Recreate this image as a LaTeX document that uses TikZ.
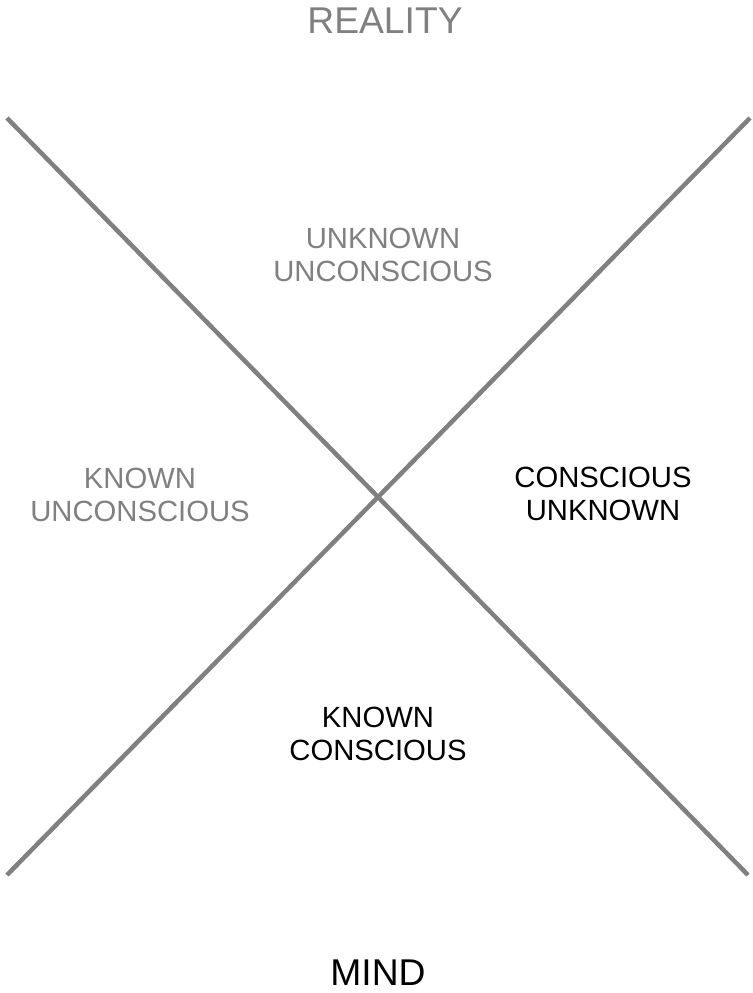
\documentclass[tikz,border=0pt]{standalone}
\usepackage{fontspec}
\setmainfont{Liberation Sans}
\usepackage{xcolor}
\usepackage{tikz}
\usetikzlibrary{positioning,calc}
\definecolor{axisgray}{RGB}{128,128,128}

\begin{document}
\begin{tikzpicture}[
  x=0.025cm, y=-0.025cm,
  axis/.style={draw=axisgray,line width=3.2pt},
  pole/.style={font=\fontsize{26.5}{30}\selectfont,inner sep=0pt},
  quad/.style={align=center,inner sep=0pt,
               font=\fontsize{20.8}{23}\selectfont}
]
\useasboundingbox (0,0) rectangle (752,993);
% the two crossing axes
\coordinate (tl) at (7,118);
\coordinate (br) at (748,875);
\coordinate (tr) at (750,118);
\coordinate (bl) at (7,875);
\draw[axis] (tl)--(br);
\draw[axis] (tr)--(bl);
% poles
\node[pole,text=axisgray] (reality) at (385,21) {REALITY};
\node[pole] (mind) at (378,973) {MIND};
% quadrants
\node[quad,text=axisgray] (uu) at (383,255) {UNKNOWN\\UNCONSCIOUS};
\node[quad,text=axisgray] (ku) at (140,495) {KNOWN\\UNCONSCIOUS};
\node[quad] (cu) at (603,494) {CONSCIOUS\\UNKNOWN};
\node[quad] (kc) at (378,734) {KNOWN\\CONSCIOUS};
\end{tikzpicture}
\end{document}
